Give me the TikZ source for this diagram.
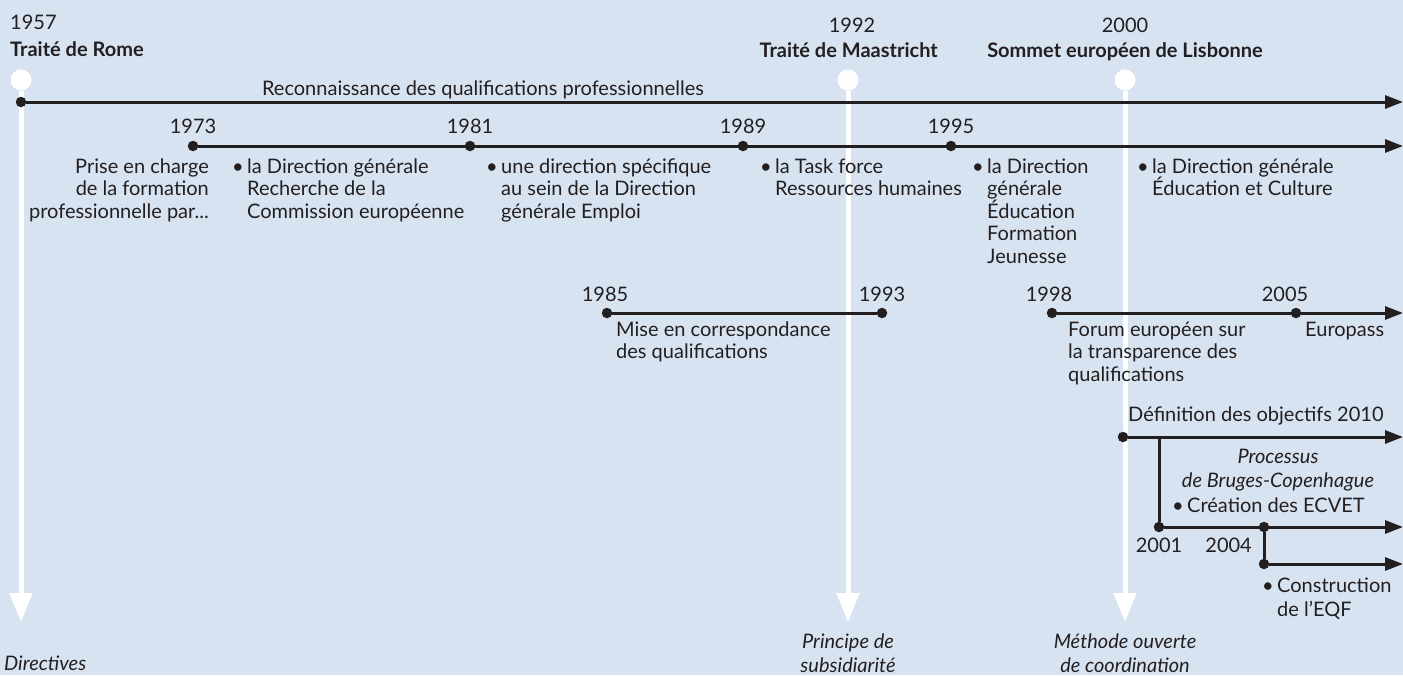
\documentclass[tikz,border=0pt]{standalone}
\usepackage{fontspec}
\setmainfont{Lato}
\usetikzlibrary{arrows.meta}
\definecolor{fond}{RGB}{216,227,242}
\definecolor{encre}{RGB}{35,31,32}
\newcommand\puce{\makebox[15pt][l]{\textbullet}}
\newcommand\retrait{\hspace*{15pt}}

\begin{document}
\begin{tikzpicture}
  [x=1pt,y=-1pt,
   every node/.style={inner sep=0pt,text=encre,font=\fontsize{20}{22.5}\selectfont},
   pt/.style={circle,fill=encre,minimum size=10.5pt},
   rond/.style={circle,fill=white,minimum size=21pt},
   lig/.style={line width=3pt,draw=encre},
   fl/.style={lig,-{Triangle[length=18pt,width=13pt]}},
   blanc/.style={line width=5pt,draw=white,-{Triangle[length=29pt,width=22pt]}},
   txt/.style={align=left,anchor=base west},
   titre/.style={font=\fontsize{20}{23}\selectfont\bfseries},
   ital/.style={font=\fontsize{20}{24}\selectfont\itshape}]
  \path[use as bounding box,fill=fond] (0,0) rectangle (1403,675);

  % les trois grands traites
  \node[rond] (r57) at (21,80) {};
  \node[rond] (r92) at (848,80) {};
  \node[rond] (r00) at (1125,80) {};
  \coordinate (b57) at (21,622);
  \coordinate (b92) at (848,622);
  \coordinate (b00) at (1125,622);
  \foreach \from/\to in {r57/b57,r92/b92,r00/b00}
    \draw[blanc] (\from) -- (\to);

  \node[anchor=base west] (a57) at (10,29) {1957};
  \node[anchor=base west,titre] (t57) at (10,56) {Traité de Rome};
  \node[anchor=base] (a92) at (852,32) {1992};
  \node[anchor=base east,titre] (t92) at (938,57) {Traité de Maastricht};
  \node[anchor=base] (a00) at (1125,32) {2000};
  \node[anchor=base,titre] (t00) at (1125,57) {Sommet européen de Lisbonne};

  % points des dates
  \node[pt] (d57) at (21,102) {};
  \node[pt] (d73) at (193,146) {};
  \node[pt] (d81) at (470,146) {};
  \node[pt] (d89) at (743,146) {};
  \node[pt] (d95) at (951,146) {};
  \node[pt] (d85) at (607,313) {};
  \node[pt] (d93) at (882,313) {};
  \node[pt] (d98) at (1052,313) {};
  \node[pt] (d05) at (1296,313) {};
  \node[pt] (d10) at (1123,437) {};
  \coordinate (j01) at (1159,437);
  \node[pt] (d01) at (1159,527) {};
  \node[pt] (d04) at (1264,527) {};
  \node[pt] (d04b) at (1264,564) {};

  \coordinate (f57) at (1403,102);
  \coordinate (f73) at (1403,146);
  \coordinate (f98) at (1403,313);
  \coordinate (f10) at (1403,437);
  \coordinate (f01) at (1403,527);
  \coordinate (f04) at (1403,564);

  \foreach \from/\to in {d57/f57,d73/f73,d98/f98,d10/f10,d01/f01,d04b/f04}
    \draw[fl] (\from) -- (\to);
  \foreach \from/\to in {d85/d93,j01/d01,d04/d04b}
    \draw[lig] (\from) -- (\to);

  % textes (ancre sur la derniere ligne)
  \node[anchor=base] (l57) at (483,95) {Reconnaissance des qualifications professionnelles};
  \node[anchor=base] (a73) at (193,133) {1973};
  \node[anchor=base] (a81) at (470,133) {1981};
  \node[anchor=base] (a89) at (743,133) {1989};
  \node[anchor=base] (a95) at (951,133) {1995};
  \node[align=right,anchor=base east] (l73) at (209,218)
    {Prise en charge\\de la formation\\professionnelle par...};
  \node[txt] (m1) at (232,218)
    {\puce la Direction générale\\\retrait Recherche de la\\\retrait Commission européenne};
  \node[txt] (m2) at (486,218)
    {\puce une direction spécifique\\\retrait au sein de la Direction\\\retrait générale Emploi};
  \node[txt] (m3) at (760,195.5)
    {\puce la Task force\\\retrait Ressources humaines};
  \node[txt] (m4) at (972,263)
    {\puce la Direction\\\retrait générale\\\retrait Éducation\\\retrait Formation\\\retrait Jeunesse};
  \node[txt] (m5) at (1137,195.5)
    {\puce la Direction générale\\\retrait Éducation et Culture};

  \node[anchor=base] (a85) at (605,301) {1985};
  \node[anchor=base] (a93) at (882,301) {1993};
  \node[txt] (l85) at (616,358.5) {Mise en correspondance\\des qualifications};
  \node[anchor=base] (a98) at (1049,301) {1998};
  \node[anchor=base] (a05) at (1285,301) {2005};
  \node[txt] (l98) at (1068,381) {Forum européen sur\\la transparence des\\qualifications};
  \node[txt] (l05) at (1305,336) {Europass};

  \node[txt] (l10) at (1128,421) {Définition des objectifs 2010};
  \node[align=center,anchor=base,ital] (l01) at (1278,487) {Processus\\de Bruges-Copenhague};
  \node[txt] (e01) at (1172,512) {\puce Création des ECVET};
  \node[anchor=base] (a01) at (1159,552) {2001};
  \node[anchor=base east] (a04) at (1252,552) {2004};
  \node[txt,font=\fontsize{20}{24.5}\selectfont] (e04) at (1262,616.5) {\puce Construction\\\retrait de l’EQF};

  \node[anchor=base west,ital] (c57) at (4,670) {Directives};
  \node[align=center,anchor=base,ital] (c92) at (848,672) {Principe de\\subsidiarité};
  \node[align=center,anchor=base,ital] (c00) at (1125,672) {Méthode ouverte\\de coordination};
\end{tikzpicture}
\end{document}
